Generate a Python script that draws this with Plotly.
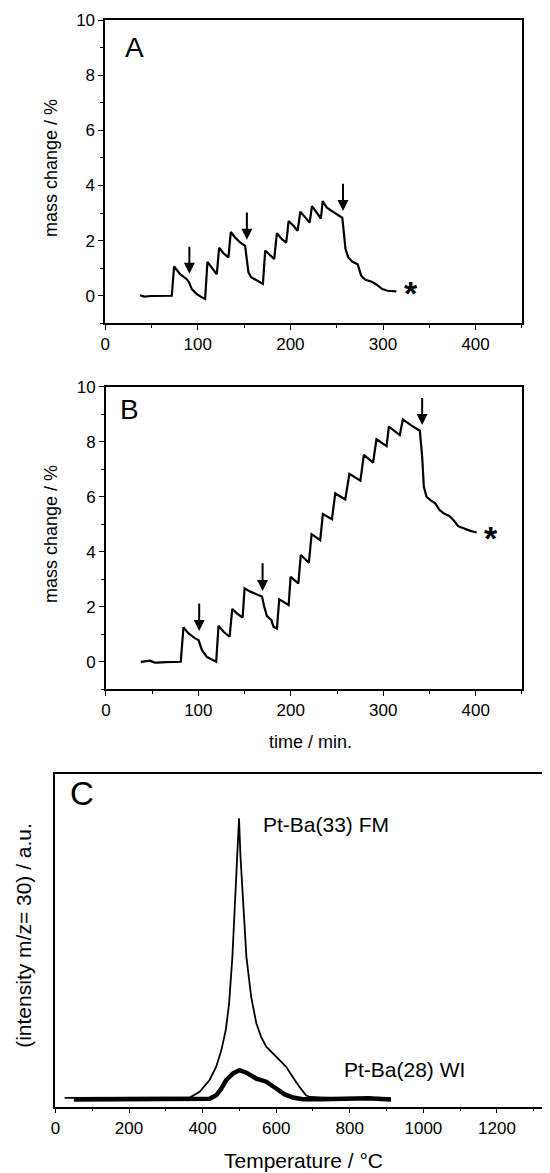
import plotly.graph_objects as go

# panel A - time / min. vs mass change / %
a_time = [37.6, 42.0, 50.0, 60.0, 71.9, 74.4, 80.9, 88.1, 90.6, 93.5, 98.9, 104.0, 107.9, 110.4, 115.1,
          120.5, 123.0, 127.7, 133.1, 135.6, 140.3, 145.7, 151.1, 152.7, 154.7, 157.6, 163.8, 170.3, 172.8,
          178.2, 182.5, 185.4, 190.8, 195.5, 198.1, 203.5, 207.8, 210.7, 216.1, 220.8, 223.3, 228.7, 233.0,
          234.8, 239.4, 246.2, 253.8, 256.0, 258.0, 259.5, 262.5, 267.0, 272.7, 276.5, 281.0, 287.9, 293.6,
          299.2, 304.9, 314.4]
a_mass = [0.02, -0.03, -0.01, 0.0, 0.0, 1.06, 0.78, 0.60, 0.48, 0.24, 0.06, -0.05, -0.12, 1.23, 1.02,
          0.78, 1.74, 1.54, 1.39, 2.31, 2.11, 1.93, 1.81, 1.40, 0.85, 0.67, 0.55, 0.43, 1.64,
          1.45, 1.33, 2.27, 2.05, 1.93, 2.71, 2.53, 2.35, 3.05, 2.83, 2.65, 3.25, 3.01, 2.80,
          3.43, 3.19, 3.04, 2.89, 2.83, 2.20, 1.69, 1.39, 1.23, 1.14, 0.72, 0.58, 0.51, 0.39,
          0.24, 0.18, 0.16]
a_arrow_x = [90.9, 153.0, 256.8]
a_arrow_tip = [0.80, 2.03, 3.07]
a_arrow_tail = [1.83, 3.07, 4.12]
a_star = (330, 0.3)

# panel B
b_time = [37.7, 44, 47.8, 52, 55, 65, 75, 81.0, 83.9, 89.4, 96.6, 100.2, 103.8, 109.2, 114, 119.3,
          121.8, 127.3, 133.8, 136.7, 141.7, 147.9, 150.0, 156.2, 163.4, 168.8, 171.3, 174.2, 178.9,
          181.4, 185.0, 187.5, 192.2, 197.7, 199.8, 204.4, 208.2, 210.8, 215.8, 219.6, 222.5, 227.2,
          231.8, 234.7, 239.5, 244.5, 248.1, 253.0, 258.9, 263.4, 268, 275.3, 279.0, 284, 289.0, 292.7,
          298, 303.6, 306.1, 311, 317.9, 321.2, 329.5, 339.6, 342.1, 343.9, 346.8, 351.1, 356.3, 360.9,
          365.8, 371.5, 376.1, 381.0, 386.7, 394.3, 401.1]
b_mass = [0.0, 0.03, 0.04, -0.02, -0.03, -0.01, 0.0, 0.0, 1.25, 1.03, 0.85, 0.79, 0.43, 0.18, 0.09, 0.0,
          1.31, 1.09, 0.91, 1.92, 1.76, 1.61, 2.67, 2.55, 2.45, 2.37, 2.0, 1.66, 1.52,
          1.27, 1.21, 2.27, 2.18, 2.06, 3.09, 2.97, 2.85, 3.88, 3.72, 3.60, 4.64, 4.52,
          4.42, 5.37, 5.28, 5.18, 6.12, 6.02, 5.90, 6.83, 6.73, 6.58, 7.52, 7.39, 7.24, 8.09,
          7.98, 7.84, 8.55, 8.42, 8.24, 8.81, 8.61, 8.40, 7.46, 6.37, 6.0, 5.88, 5.76, 5.52,
          5.39, 5.30, 5.15, 4.93, 4.85, 4.76, 4.70]
b_arrow_x = [100.9, 169.5, 342.1]
b_arrow_tip = [1.12, 2.57, 8.61]
b_arrow_tail = [2.17, 3.64, 9.64]
b_star = (417, 4.73)

# panel C - TPD, m/z = 30
c_fm_temp = [25, 100, 200, 300, 365, 392, 419, 437, 451, 463, 472, 481, 488, 494, 499, 503, 510, 519,
             532, 546, 559, 573, 591, 609, 627, 645, 663, 681, 690, 750, 850, 910]
c_fm_int = [0.6, 0.6, 0.6, 0.6, 0.7, 2.7, 6.9, 11.6, 17.5, 24.6, 34.0, 50.6, 68.3, 86.0, 99.6, 86.0, 68.3,
            50.6, 36.4, 27.0, 22.2, 18.7, 16.3, 14.0, 11.6, 8.0, 4.5, 1.5, 0.9, 0.6, 0.6, 0.6]
c_wi_temp = [50, 150, 250, 350, 419, 437, 451, 464, 482, 500, 519, 546, 573, 600, 622, 645, 672, 720,
             800, 850, 912]
c_wi_int = [0.0, 0.0, 0.0, 0.1, 0.3, 1.5, 3.9, 6.9, 9.2, 10.4, 9.5, 7.4, 6.3, 3.9, 1.9, 0.7, 0.1, 0.1,
            0.4, 0.4, 0.0]

FONT = "Liberation Sans, Arial, sans-serif"
# the page body keeps its default 8px margin, so the figure is drawn 8px in from the corner
OFF = 8
W, H = 550 - OFF, 1173 - OFF


def fx(p):
    return (p - OFF) / W


def fy(p):
    return 1 - (p - OFF) / H


fig = go.Figure()
line = dict(color="black", width=2.2)
fig.add_trace(go.Scatter(x=a_time, y=a_mass, mode="lines", line=line, xaxis="x", yaxis="y"))
fig.add_trace(go.Scatter(x=b_time, y=b_mass, mode="lines", line=line, xaxis="x2", yaxis="y2"))
fig.add_trace(go.Scatter(x=c_wi_temp, y=c_wi_int, mode="lines", line=dict(color="black", width=4.5),
                         xaxis="x3", yaxis="y3"))
fig.add_trace(go.Scatter(x=c_fm_temp, y=c_fm_int, mode="lines", line=dict(color="black", width=1.8),
                         xaxis="x3", yaxis="y3"))

axis_common = dict(showline=True, linecolor="black", linewidth=1.5, mirror=True, showgrid=False,
                   zeroline=False, ticks="outside", ticklen=5, tickwidth=1.3, tickcolor="black",
                   automargin=False, tickfont=dict(family=FONT, size=17, color="black"))
x_ab = dict(range=[0, 450], dtick=100, tick0=0,
            minor=dict(dtick=50, ticks="outside", ticklen=3, tickcolor="black"), **axis_common)
y_ab = dict(range=[-1, 10], dtick=2, tick0=0,
            minor=dict(dtick=1, ticks="outside", ticklen=3, tickcolor="black"), **axis_common)

fig.update_layout(
    template="none",
    width=W, height=H, showlegend=False,
    paper_bgcolor="white", plot_bgcolor="white",
    margin=dict(l=0, r=0, t=0, b=0, pad=0),
    xaxis=dict(domain=[fx(105.2), fx(521.9)], anchor="y", **x_ab),
    yaxis=dict(domain=[fy(323.3), fy(20)], anchor="x", **y_ab),
    xaxis2=dict(domain=[fx(105.9), fx(521.9)], anchor="y2", **x_ab),
    yaxis2=dict(domain=[fy(689.3), fy(386.7)], anchor="x2", **y_ab),
    xaxis3=dict(domain=[fx(55.4), fx(548.5)], anchor="y3", range=[0, 1340], dtick=200, tick0=0,
                minor=dict(dtick=100, ticks="outside", ticklen=3, tickcolor="black"), **axis_common),
    yaxis3=dict(domain=[fy(1106.7), fy(774)], anchor="x3", range=[-2.55, 115.3],
                showline=True, linecolor="black", linewidth=1.5, mirror=True, showgrid=False,
                zeroline=False, ticks="", showticklabels=False, automargin=False),
)

ann = []


def text(x, y, s, size, angle=0, xanchor="center", xref="paper", yref="paper", bold=False, yshift=0):
    ann.append(dict(x=x, y=y, xref=xref, yref=yref, text=f"<b>{s}</b>" if bold else s, showarrow=False,
                    textangle=angle, xanchor=xanchor, yanchor="middle", yshift=yshift,
                    font=dict(family=FONT, size=size, color="black")))


# axis titles
text(fx(51), fy(168), "mass change / %", 18, angle=-90)
text(fx(51), fy(534), "mass change / %", 18, angle=-90)
text(fx(310.4), fy(741.7), "time / min.", 18)
text(fx(303.8), fy(1160), "Temperature / °C", 21)
text(fx(22.8), fy(935), "(intensity m/z= 30) / a.u.", 21, angle=-90)

# panel letters
text(fx(134), fy(47.5), "A", 28)
text(fx(129), fy(410), "B", 28)
text(fx(81.5), fy(793.3), "C", 33)

# curve labels
text(560, 97.3, "Pt-Ba(33) FM", 21, xanchor="left", xref="x3", yref="y3")
text(780, 10.5, "Pt-Ba(28) WI", 21, xanchor="left", xref="x3", yref="y3")

# asterisks
text(a_star[0], a_star[1], "*", 34, xref="x", yref="y", bold=True, yshift=-6)
text(b_star[0], b_star[1], "*", 34, xref="x2", yref="y2", bold=True, yshift=-6)

# arrows
for xs, tips, tails, xr, yr in [(a_arrow_x, a_arrow_tip, a_arrow_tail, "x", "y"),
                                (b_arrow_x, b_arrow_tip, b_arrow_tail, "x2", "y2")]:
    for x, tip, tail in zip(xs, tips, tails):
        ann.append(dict(x=x, y=tip, ax=x, ay=tail, xref=xr, yref=yr, axref=xr, ayref=yr, text="",
                        showarrow=True, arrowhead=2, arrowsize=1.1, arrowwidth=2, arrowcolor="black",
                        standoff=0))

fig.update_layout(annotations=ann)
fig.write_html("out.html")
